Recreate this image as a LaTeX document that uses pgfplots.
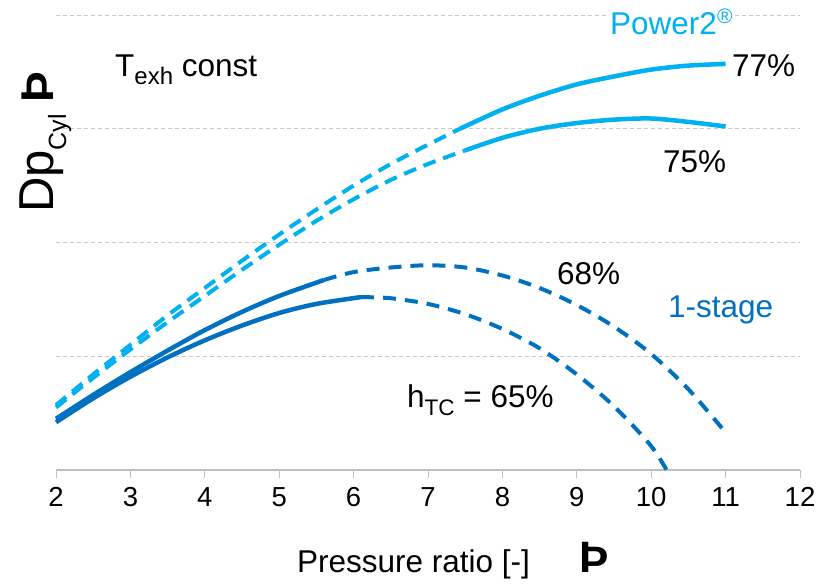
\documentclass[border=0pt]{standalone}
\usepackage{pgfplots}
\pgfplotsset{compat=1.18}
\usepackage{fontspec}
\setmainfont{Liberation Sans}
\definecolor{lb}{HTML}{00B0F0}
\definecolor{db}{HTML}{0070C0}
\definecolor{gridc}{HTML}{C8C8C8}
\definecolor{axc}{HTML}{BFBFBF}
\begin{document}
\begin{tikzpicture}
\path[use as bounding box] (0pt,0pt) rectangle (828pt,586pt);
\begin{axis}[
 at={(56pt,116pt)}, anchor=south west,
 scale only axis, width=744pt, height=455pt,
 xmin=2, xmax=12, ymin=0, ymax=4,
 axis x line=bottom, axis y line=left,
 y axis line style={draw=none},
 x axis line style={draw=axc, line width=1.3pt, -},
 xtick={2,...,12}, ytick={1,2,3,4}, yticklabels={},
 ytick style={draw=none},
 xtick style={draw=axc, line width=1pt},
 tick align=outside, major tick length=8pt,
 ymajorgrids, grid style={draw=gridc, dash pattern=on 4pt off 3pt, line width=0.9pt},
 /pgf/number format/assume math mode=true,
 xticklabel style={font=\fontsize{27.5}{30}\selectfont, inner sep=0pt, anchor=north, yshift=-9pt},
 clip=false,
]
% Power2 77%
\addplot[lb, line width=4pt, dash pattern=on 13pt off 8pt, smooth] coordinates {(2,0.57) (2.5,0.84) (3,1.10) (3.5,1.36) (4,1.60) (4.5,1.84) (5,2.07) (5.5,2.29) (6,2.50) (6.5,2.69) (7,2.86) (7.43,3.00)};
\addplot[lb, line width=4.5pt, smooth] coordinates {(7.43,3.00) (8,3.17) (8.5,3.29) (9,3.39) (9.5,3.46) (10,3.52) (10.5,3.555) (11,3.57)};
% Power2 75%
\addplot[lb, line width=4pt, dash pattern=on 13pt off 8pt, smooth] coordinates {(2,0.55) (2.5,0.81) (3,1.06) (3.5,1.30) (4,1.53) (4.5,1.76) (5,1.98) (5.5,2.19) (6,2.38) (6.5,2.55) (7,2.69) (7.5,2.81)};
\addplot[lb, line width=4.5pt, smooth] coordinates {(7.5,2.81) (8,2.92) (8.5,3.00) (9,3.05) (9.5,3.08) (10,3.09) (10.5,3.06) (11,3.02)};
% 1-stage 68%
\addplot[db, line width=4.5pt, smooth] coordinates {(2,0.45) (2.5,0.66) (3,0.86) (3.5,1.05) (4,1.23) (4.5,1.39) (5,1.53) (5.6,1.67)};
\addplot[db, line width=4pt, dash pattern=on 13pt off 9pt, smooth] coordinates {(5.6,1.67) (6,1.74) (6.5,1.78) (7,1.80) (7.5,1.78) (8,1.71) (8.5,1.60) (9,1.45) (9.5,1.26) (10,1.02) (10.5,0.71) (11,0.33)};
% 1-stage 65%
\addplot[db, line width=4.5pt, smooth] coordinates {(2,0.42) (2.5,0.63) (3,0.82) (3.5,0.99) (4,1.14) (4.5,1.27) (5,1.38) (5.5,1.46) (6.1,1.52)};
\addplot[db, line width=4pt, dash pattern=on 13pt off 9pt, smooth] coordinates {(6.1,1.52) (6.5,1.51) (7,1.46) (7.5,1.37) (8,1.24) (8.5,1.07) (9,0.84) (9.5,0.56) (10,0.21) (10.25,-0.05)};
\end{axis}
% texts
\node[anchor=base west, inner sep=0pt] at (115pt,509pt) {\fontsize{31.5}{34}\selectfont T\raisebox{-8pt}{\fontsize{24}{26}\selectfont exh}\ const};
\node[anchor=base west, inner sep=2pt, fill=white, text=lb] at (608pt,551pt) {\fontsize{31.5}{34}\selectfont Power2\raisebox{11pt}{\fontsize{21}{22}\selectfont ®}};
\node[anchor=base west, inner sep=0pt] at (732pt,509pt) {\fontsize{31.5}{34}\selectfont 77\%};
\node[anchor=base west, inner sep=0pt] at (663pt,413pt) {\fontsize{31.5}{34}\selectfont 75\%};
\node[anchor=base west, inner sep=0pt] at (557pt,301pt) {\fontsize{31.5}{34}\selectfont 68\%};
\node[anchor=base west, inner sep=0pt, text=db] at (668pt,268pt) {\fontsize{31.5}{34}\selectfont 1-stage};
\node[anchor=base west, inner sep=0pt] at (407pt,178pt) {\fontsize{31.5}{34}\selectfont h\raisebox{-8pt}{\fontsize{22.5}{24}\selectfont TC} = 65\%};
\node[anchor=base west, inner sep=0pt] at (297pt,13pt) {\fontsize{31.5}{34}\selectfont Pressure ratio [-]};
\node[anchor=base west, inner sep=0pt] at (579pt,13pt) {\fontsize{44}{48}\selectfont\bfseries Þ};
\node[anchor=base west, inner sep=0pt, rotate=90] at (53pt,373pt) {\fontsize{49}{50}\selectfont Dp\raisebox{-13pt}{\fontsize{25}{28}\selectfont Cyl}\hspace{12pt}{\fontsize{46}{48}\selectfont\bfseries Þ}};
\end{tikzpicture}
\end{document}
